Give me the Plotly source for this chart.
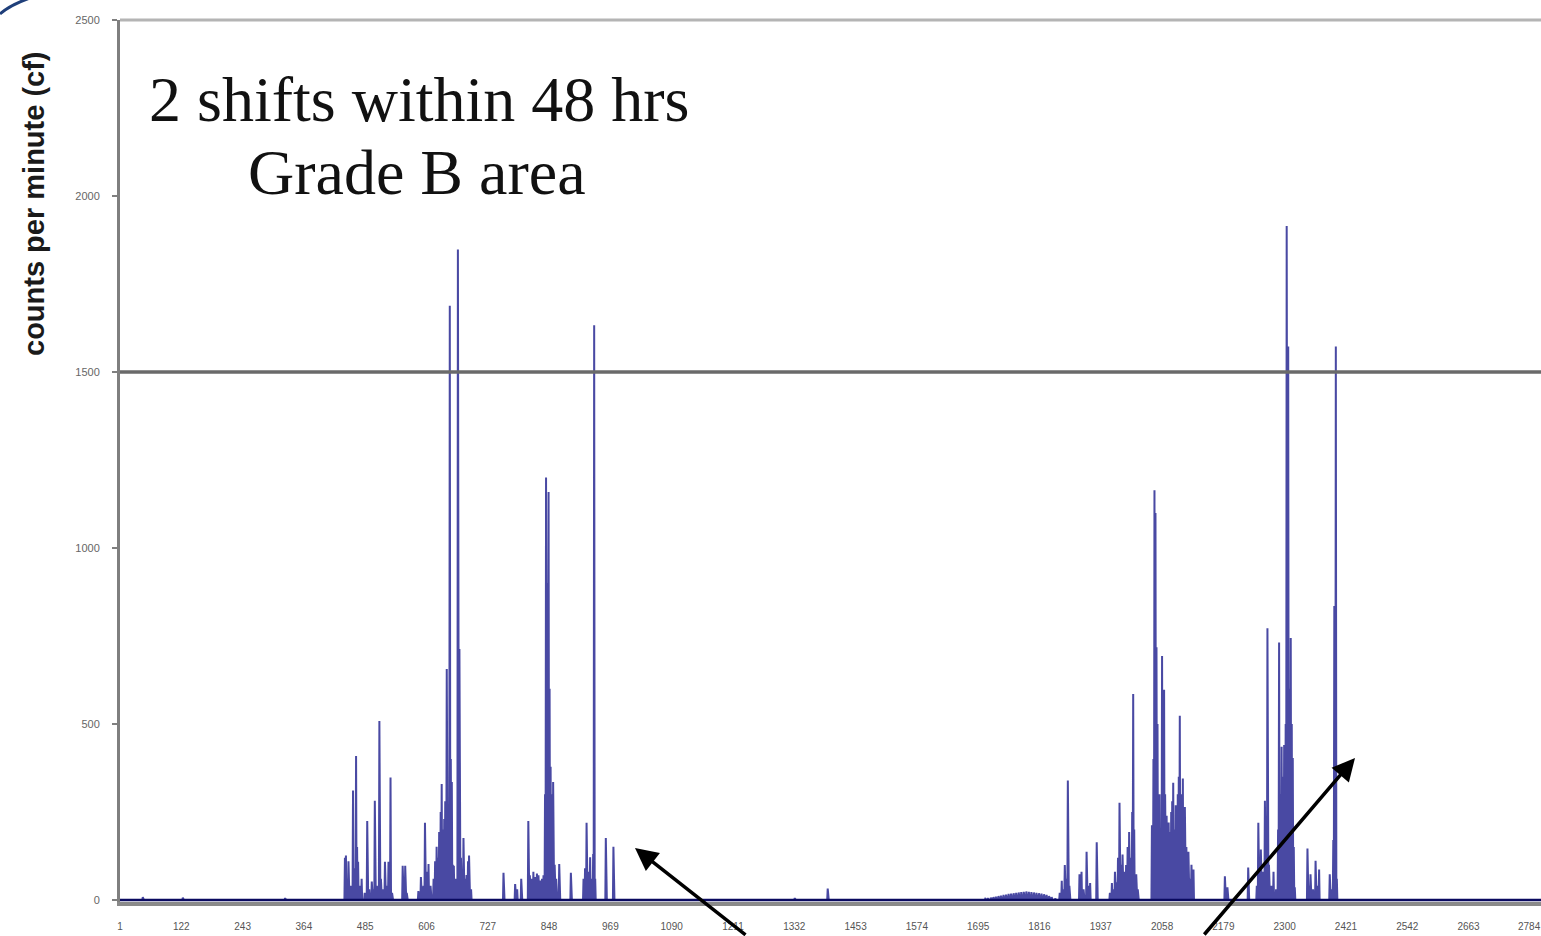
import numpy as np
import plotly.graph_objects as go

# ---- data (minute index, counts per minute) ----
total_minutes = 2806
spike_minutes = [
    46, 125, 327,
    445, 447, 449, 452, 457, 461, 464, 467, 469, 471, 474, 478, 484, 489, 493, 498, 501,
    504, 508, 513, 516, 520, 524, 528, 531, 535, 538, 559, 564, 567, 590, 595, 600, 603,
    606, 610, 614, 620, 623, 626, 629, 631, 634, 636, 638, 641, 643, 646, 649, 652, 654,
    656, 658, 660, 663, 668, 671, 674, 677, 679, 682, 685, 688, 690, 694,
    758, 781, 785, 793, 807, 810, 813, 817, 821, 824, 827, 831, 834, 837, 840, 842, 844,
    846, 847, 849, 851, 853, 856, 859, 862, 868, 891, 916, 919, 922, 925, 929, 932, 935,
    937, 939, 960, 975, 1333, 1398,
    1709, 1714, 1720, 1725, 1730, 1735, 1740, 1745, 1750, 1755, 1760, 1765, 1770, 1775,
    1780, 1785, 1790, 1795, 1800, 1805, 1810, 1815, 1820, 1825, 1830, 1835, 1840, 1847,
    1856, 1860, 1863, 1866, 1869, 1872, 1875, 1895, 1899, 1903, 1909, 1912, 1916, 1929,
    1955, 1959, 1962, 1965, 1968, 1971, 1974, 1977, 1980, 1983, 1987, 1990, 1993, 1996,
    1999, 2001, 2003, 2007, 2010, 2038, 2041, 2043, 2045, 2047, 2049, 2051, 2053, 2055,
    2058, 2060, 2062, 2064, 2067, 2069, 2071, 2074, 2076, 2078, 2080, 2082, 2085, 2087,
    2089, 2091, 2093, 2095, 2097, 2099, 2101, 2103, 2106, 2108, 2110, 2113, 2116, 2120,
    2182, 2185, 2187, 2228, 2245, 2248, 2251, 2253, 2257, 2261, 2264, 2266, 2269, 2274,
    2278, 2283, 2287, 2289, 2291, 2294, 2296, 2299, 2302, 2304, 2307, 2309, 2312, 2314,
    2316, 2318, 2320, 2345, 2348, 2351, 2356, 2361, 2364, 2368, 2389, 2393, 2396, 2398,
    2401, 2403,
]
spike_counts = [
    8, 6, 5,
    120, 126, 60, 110, 40, 311, 90, 409, 150, 108, 40, 60, 20, 224, 30, 52, 30,
    282, 40, 508, 60, 30, 108, 40, 108, 348, 20, 97, 97, 20, 25, 65, 40, 219,
    80, 102, 40, 60, 110, 151, 120, 193, 250, 329, 200, 230, 280, 656, 150, 1688, 400,
    335, 100, 97, 60, 1848, 713, 120, 80, 176, 60, 71, 110, 126, 30,
    77, 45, 30, 60, 224, 70, 60, 80, 65, 75, 70, 55, 60, 70, 300, 1200, 900,
    700, 1159, 600, 378, 300, 335, 100, 60, 102, 77, 60, 90, 219, 80, 121, 60, 130,
    1633, 60, 176, 151, 5, 32,
    3, 5, 6, 8, 9, 11, 12, 14, 15, 17, 18, 19, 20, 21,
    22, 23, 24, 23, 22, 21, 20, 19, 18, 16, 14, 11, 8, 4,
    20, 54, 30, 99, 60, 339, 40, 73, 80, 30, 137, 40, 48, 164,
    20, 48, 30, 80, 50, 120, 276, 100, 129, 80, 99, 150, 193, 120,
    250, 585, 200, 73, 30, 212, 400, 1164, 1099, 718, 500, 233, 300, 180,
    693, 400, 597, 300, 239, 150, 220, 193, 250, 280, 333, 200, 269, 150,
    300, 350, 523, 300, 250, 345, 200, 264, 150, 120, 137, 60, 100, 86,
    67, 20, 36, 92, 40, 219, 60, 143, 80, 282, 150, 772, 100, 40,
    80, 30, 200, 731, 300, 435, 350, 440, 500, 1915, 1572, 600, 744, 500,
    403, 150, 36, 146, 40, 73, 30, 111, 40, 86, 73, 30, 170, 835,
    1572, 60,
]
x_tick_values = [1, 122, 243, 364, 485, 606, 727, 848, 969, 1090, 1211, 1332, 1453,
                 1574, 1695, 1816, 1937, 2058, 2179, 2300, 2421, 2542, 2663, 2784]
x_tick_labels = [str(v) for v in x_tick_values]
y_tick_values = [0, 500, 1000, 1500, 2000, 2500]
y_tick_labels = ["0", "500", "1000", "1500", "2000", "2500"]
threshold = 1500
title_line1 = "2 shifts within 48 hrs"
title_line2 = "Grade B area"
y_title = "counts per minute (cf)"

# ---- build series ----
minutes = np.arange(1, total_minutes + 1)
counts = np.zeros(total_minutes)
for m, c in zip(spike_minutes, spike_counts):
    counts[m - 1] = c

W, H = 1541, 936
L, R, T, B = 120, 0, 20, 34
PW, PH = W - L - R, H - T - B
X0, X1 = 1, 2806


def px_x(px):
    return (px - L) / PW


def px_y(py):
    return 1 - (py - T) / PH


fig = go.Figure()
fig.add_trace(go.Scatter(
    x=minutes, y=counts, mode="lines",
    line=dict(color="#2a2a94", width=2.0),
    opacity=0.85, hoverinfo="skip", showlegend=False,
))

shapes = [
    dict(type="line", xref="paper", yref="y", x0=0, x1=1, y0=threshold, y1=threshold,
         line=dict(color="#6a6a6a", width=3.5), layer="above"),
    dict(type="line", xref="paper", yref="paper", x0=0, x1=1, y0=1, y1=1,
         line=dict(color="#b4b4b4", width=3)),
    dict(type="line", xref="paper", yref="y", x0=0, x1=1, y0=0, y1=0,
         line=dict(color="#0a0a60", width=2.5), layer="above"),
    dict(type="path", xref="paper", yref="paper",
         path=f"M {px_x(0)},{px_y(14)} Q {px_x(10)},{px_y(5)} {px_x(30)},{px_y(-2)}",
         line=dict(color="#1f3f7a", width=3)),
]

annotations = [
    dict(text=title_line1, xref="paper", yref="paper", x=px_x(419), y=px_y(99),
         showarrow=False, xanchor="center", yanchor="middle",
         font=dict(family="Liberation Serif", size=64, color="#111111")),
    dict(text=title_line2, xref="paper", yref="paper", x=px_x(417), y=px_y(172),
         showarrow=False, xanchor="center", yanchor="middle",
         font=dict(family="Liberation Serif", size=64, color="#111111")),
    dict(text=y_title, xref="paper", yref="paper", x=px_x(34), y=px_y(204),
         showarrow=False, textangle=-90, xanchor="center", yanchor="middle",
         font=dict(family="Liberation Sans", size=29, color="#1a1a1a", weight="bold")),
    # last x tick label, too close to the edge for plotly's own tick labels
    dict(text=x_tick_labels[-1], xref="x", yref="paper", x=x_tick_values[-1], y=px_y(926),
         showarrow=False, xanchor="center", yanchor="middle",
         font=dict(family="Liberation Sans", size=10, color="#555555")),
    # arrows
    dict(text="", x=X0 + (635 - L) / PW * (X1 - X0), y=(900 - 848) / 0.352,
         xref="x", yref="y", showarrow=True, ax=112, ay=98,
         arrowhead=2, arrowsize=1.3, arrowwidth=3.5, arrowcolor="#000000", standoff=0),
    dict(text="", x=X0 + (1355 - L) / PW * (X1 - X0), y=(900 - 758) / 0.352,
         xref="x", yref="y", showarrow=True, ax=-152, ay=185,
         arrowhead=2, arrowsize=1.3, arrowwidth=3.5, arrowcolor="#000000", standoff=0),
]

fig.update_layout(
    width=W, height=H,
    margin=dict(l=L, r=R, t=T, b=B, pad=0),
    paper_bgcolor="white", plot_bgcolor="white",
    showlegend=False,
    shapes=shapes,
    annotations=annotations,
    xaxis=dict(
        range=[X0, X1], tickmode="array", tickvals=x_tick_values, ticktext=x_tick_labels,
        showgrid=False, zeroline=False, showline=True, linecolor="#8a8a8a", linewidth=4,
        ticks="outside", ticklen=12, tickcolor="rgba(0,0,0,0)",
        tickfont=dict(family="Liberation Sans", size=10, color="#555555"),
    ),
    yaxis=dict(
        range=[-6, 2500], tickmode="array", tickvals=y_tick_values, ticktext=y_tick_labels,
        showgrid=False, zeroline=False, showline=True, linecolor="#7f7f7f", linewidth=3,
        ticks="outside", ticklen=5, tickcolor="#7f7f7f", tickwidth=2,
        ticklabelstandoff=10,
        tickfont=dict(family="Liberation Sans", size=11, color="#666666"),
    ),
)

fig.write_html("out.html")
